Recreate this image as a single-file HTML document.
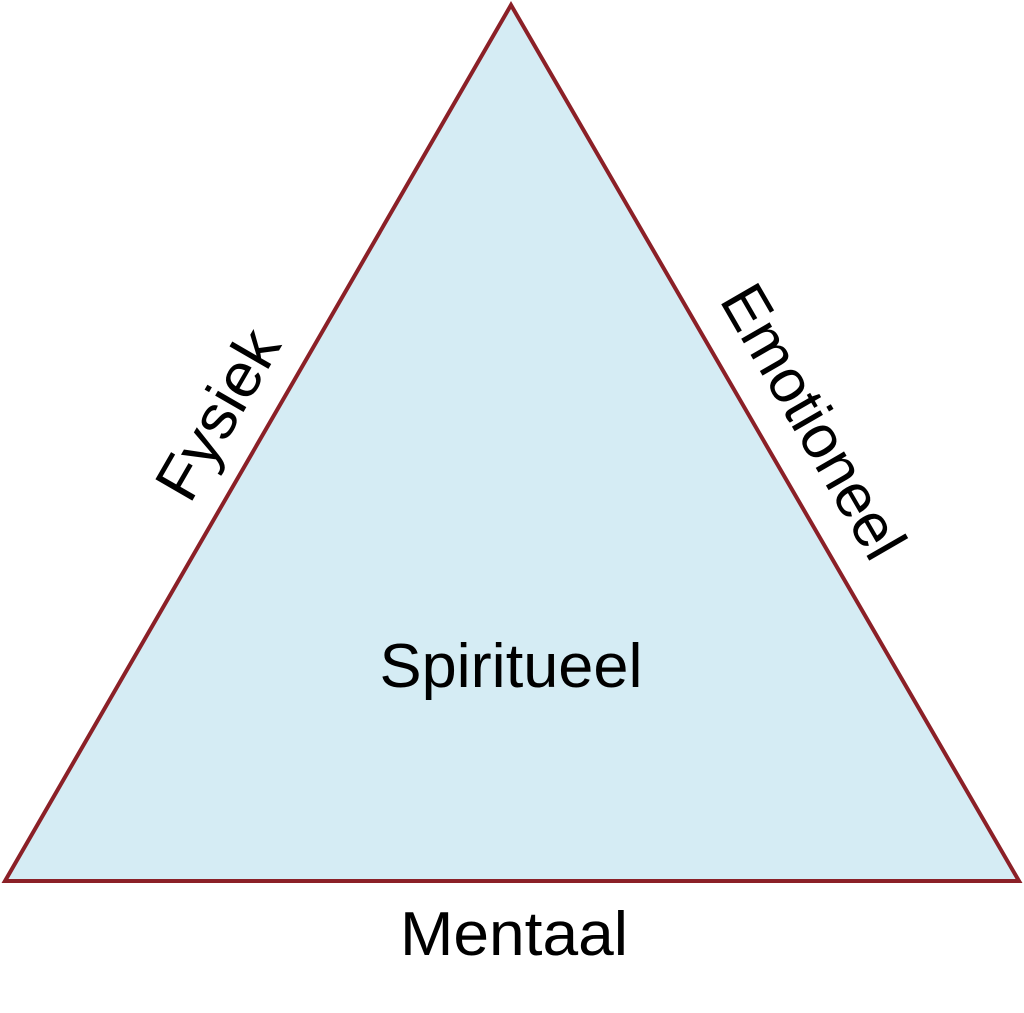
<!DOCTYPE html>
<html><head><meta charset="utf-8"><style>html,body{margin:0;padding:0;background:#fff}svg{display:block}</style></head>
<body>
<svg width="1024" height="1013" viewBox="0 0 1024 1013" xmlns="http://www.w3.org/2000/svg">
<polygon points="511,5 5,881 1019,881" fill="#d5ecf4" stroke="#8b2027" stroke-width="4" stroke-linejoin="miter"/>
<g font-family="Liberation Sans, sans-serif" font-size="62" fill="#000">
<text x="511" y="687" text-anchor="middle" textLength="263" lengthAdjust="spacingAndGlyphs">Spiritueel</text>
<text x="514" y="955" text-anchor="middle" textLength="228" lengthAdjust="spacingAndGlyphs">Mentaal</text>
<text transform="translate(236,425) rotate(-60)" x="0" y="0" text-anchor="middle" textLength="185" lengthAdjust="spacingAndGlyphs">Fysiek</text>
<text transform="translate(795,432) rotate(60)" x="0" y="0" text-anchor="middle" textLength="305" lengthAdjust="spacingAndGlyphs">Emotioneel</text>
</g>
</svg>
</body></html>
